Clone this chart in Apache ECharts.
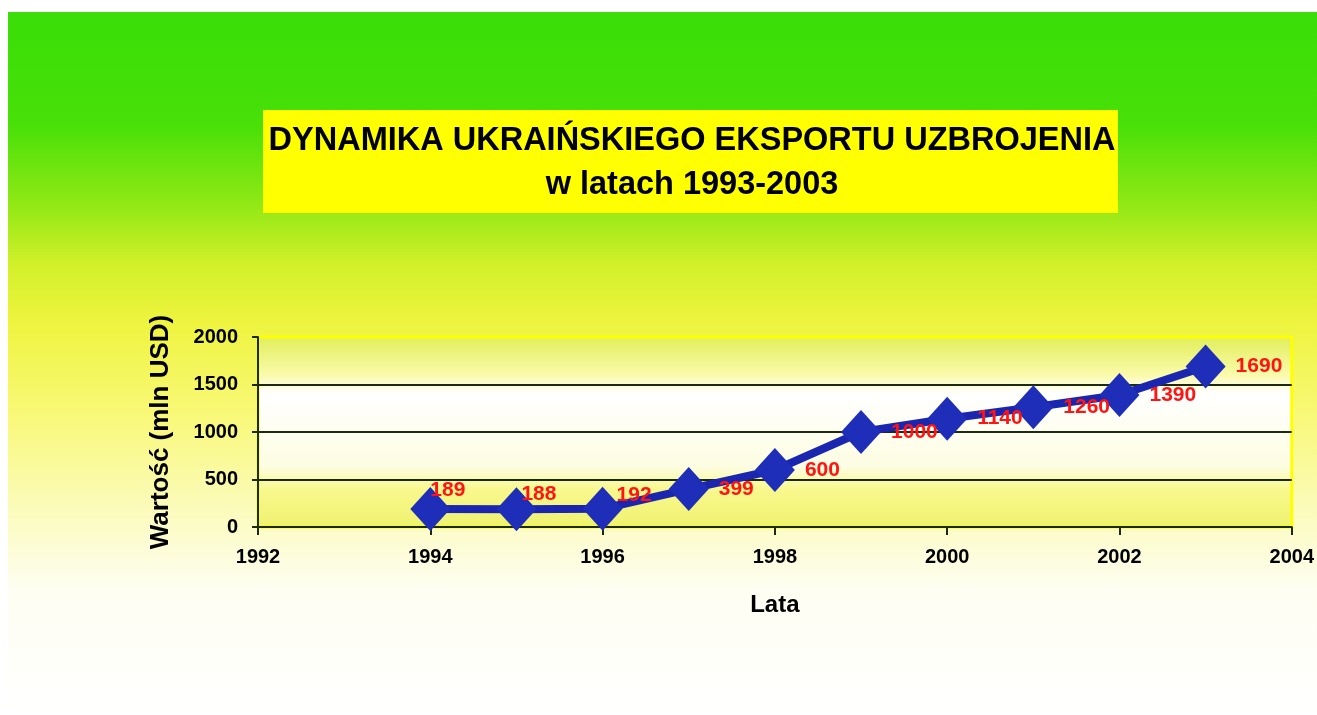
<!DOCTYPE html>
<html>
<head>
<meta charset="utf-8">
<title>Dynamika ukraińskiego eksportu uzbrojenia</title>
<script src="https://cdn.jsdelivr.net/npm/echarts@6/dist/echarts.min.js"></script>
<style>
  html, body { margin: 0; padding: 0; background: #fff; }
  #main { width: 1317px; height: 715px; }
</style>
</head>
<body>
<div id="main"></div>
<script>
// values
const years = [1994, 1995, 1996, 1997, 1998, 1999, 2000, 2001, 2002, 2003];
const exportValues = [189, 188, 192, 399, 600, 1000, 1140, 1260, 1390, 1690];
const titleLines = ['DYNAMIKA UKRAIŃSKIEGO EKSPORTU UZBROJENIA', 'w latach 1993-2003'];

const FONT = '"Liberation Sans", Arial, sans-serif';

// the first three labels sit a little higher and closer to their diamond
const labelNudge = [[-30, -19], [-25, -15], [-16, -14]];

let chart = echarts.init(document.getElementById('main'));

let seriesData = years.map(function (y, i) {
    let item = { value: [y, exportValues[i]] };
    if (labelNudge[i]) item.label = { offset: labelNudge[i] };
    return item;
});

let option = {
    backgroundColor: '#ffffff',
    animation: false,
    graphic: [{
        type: 'rect',
        z: -100,
        shape: { x: 8, y: 12, width: 1309, height: 703 },
        style: {
            fill: new echarts.graphic.LinearGradient(0, 0, 0, 1, [
                { offset: 0, color: '#3ade08' },
                { offset: 0.16, color: '#48e008' },
                { offset: 0.27, color: '#8ee814' },
                { offset: 0.36, color: '#d2f02a' },
                { offset: 0.44, color: '#eef43e' },
                { offset: 0.56, color: '#f8f872' },
                { offset: 0.7, color: '#fbfbb8' },
                { offset: 0.82, color: '#fefef2' },
                { offset: 1, color: '#ffffff' }
            ])
        }
    }, {
        type: 'rect',
        z: -50,
        shape: { x: 263, y: 110, width: 855, height: 103 },
        style: { fill: '#ffff00' }
    }],
    title: {
        text: titleLines.join('\n'),
        left: 687,
        top: 114,
        textAlign: 'center',
        textStyle: {
            fontFamily: FONT,
            fontWeight: 'bold',
            fontSize: 32.5,
            lineHeight: 44,
            color: '#000'
        }
    },
    grid: {
        left: 258,
        right: 24,
        top: 337,
        bottom: 188,
        show: true,
        borderColor: '#ffff00',
        borderWidth: 3,
        backgroundColor: new echarts.graphic.LinearGradient(0, 0, 0, 1, [
            { offset: 0, color: '#e0ee58' },
            { offset: 0.2, color: '#fafaa8' },
            { offset: 0.3, color: '#ffffff' },
            { offset: 0.68, color: '#fdfde2' },
            { offset: 0.8, color: '#f8f88c' },
            { offset: 1, color: '#eef26e' }
        ])
    },
    xAxis: {
        type: 'value',
        min: 1992,
        max: 2004,
        interval: 2,
        name: 'Lata',
        nameLocation: 'middle',
        nameGap: 66,
        nameTextStyle: { fontFamily: FONT, fontWeight: 'bold', fontSize: 24, color: '#000' },
        axisLine: { show: true, lineStyle: { color: '#1c2a12', width: 2 } },
        axisTick: { show: true, length: 8, lineStyle: { color: '#1c2a12', width: 2 } },
        axisLabel: {
            margin: 20,
            fontFamily: FONT,
            fontWeight: 'bold',
            fontSize: 20,
            color: '#000',
            formatter: function (v) { return String(v); }
        },
        splitLine: { show: false }
    },
    yAxis: {
        type: 'value',
        min: 0,
        max: 2000,
        interval: 500,
        name: 'Wartość (mln USD)',
        nameLocation: 'middle',
        nameGap: 84,
        nameTextStyle: { fontFamily: FONT, fontWeight: 'bold', fontSize: 26, color: '#000' },
        axisLine: { show: true, lineStyle: { color: '#1c2a12', width: 2 } },
        axisTick: { show: true, length: 6, lineStyle: { color: '#1c2a12', width: 2 } },
        axisLabel: {
            margin: 20,
            fontFamily: FONT,
            fontWeight: 'bold',
            fontSize: 20,
            color: '#000',
            formatter: function (v) { return String(v); }
        },
        splitLine: {
            show: true,
            lineStyle: { color: ['#1c2a12', '#1c2a12', '#1c2a12', '#1c2a12', '#ffff00'], width: 2 }
        }
    },
    series: [{
        name: 'Eksport',
        type: 'line',
        data: seriesData,
        symbol: 'diamond',
        symbolSize: [40, 44],
        lineStyle: { color: '#1a26b0', width: 8 },
        itemStyle: { color: '#1e2eb8' },
        label: {
            show: true,
            position: 'right',
            distance: 10,
            fontFamily: FONT,
            fontWeight: 'bold',
            fontSize: 21,
            color: '#ff1414',
            formatter: function (p) { return String(p.value[1]); }
        }
    }]
};

chart.setOption(option, true);
</script>
</body>
</html>
